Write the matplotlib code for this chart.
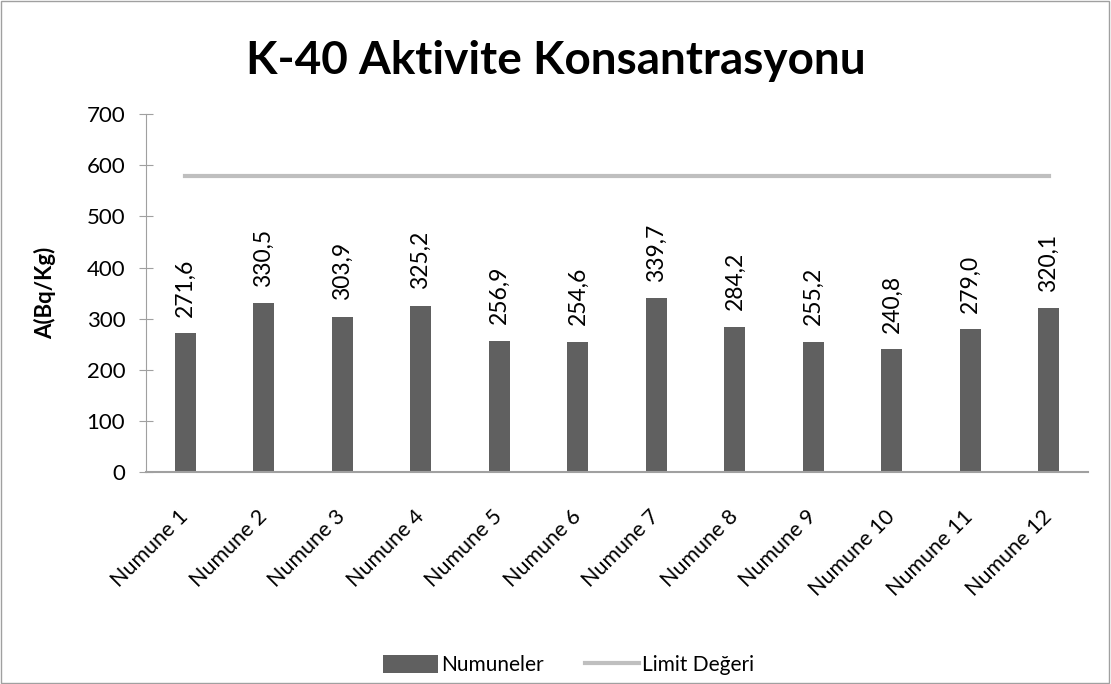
import matplotlib.pyplot as plt
from matplotlib.patches import Rectangle

plt.rcParams['font.family'] = ['Lato', 'DejaVu Sans']

samples = ['Numune 1', 'Numune 2', 'Numune 3', 'Numune 4', 'Numune 5', 'Numune 6',
           'Numune 7', 'Numune 8', 'Numune 9', 'Numune 10', 'Numune 11', 'Numune 12']
k40 = [271.6, 330.5, 303.9, 325.2, 256.9, 254.6, 339.7, 284.2, 255.2, 240.8, 279.0, 320.1]
limit = [580] * len(samples)
yticks = [0, 100, 200, 300, 400, 500, 600, 700]

fig = plt.figure(figsize=(11.11, 6.84), dpi=100)
ax = fig.add_axes([0.1314, 0.310, 0.8479, 0.523])

x = list(range(len(samples)))
bars = ax.bar(x, k40, width=0.27, color='#606060', label='Numuneler', zorder=2)
line, = ax.plot(x, limit, color='#BFBFBF', lw=3, label='Limit Değeri', zorder=3)

for xi, v in zip(x, k40):
    ax.text(xi, v + 32, f'{v:.1f}'.replace('.', ','), rotation=90,
            ha='center', va='bottom', fontsize=16.5)

ax.set_xlim(-0.5, len(samples) - 0.5)
ax.set_ylim(0, 700)
ax.set_yticks(yticks)
ax.set_xticks(x)
ax.set_xticklabels(samples, rotation=45, ha='right', va='center',
                   rotation_mode='anchor', fontsize=15.5)
ax.tick_params(axis='x', length=0, pad=30)
ax.tick_params(axis='y', direction='inout', length=10, color='#A0A0A0', labelsize=16, pad=10)
for s in ['top', 'right']:
    ax.spines[s].set_visible(False)
ax.spines['left'].set_color('#A0A0A0')
ax.spines['bottom'].set_color('#A0A0A0')
ax.spines['bottom'].set_linewidth(1.5)

ax.set_ylabel('A(Bq/Kg)', fontsize=16, fontweight='bold', labelpad=22)

fig.suptitle('K-40 Aktivite Konsantrasyonu', fontsize=33, fontweight='bold', y=0.942)

fig.legend([bars, line], ['Numuneler', 'Limit Değeri'], loc='center',
           bbox_to_anchor=(0.512, 0.028), ncol=2, frameon=False,
           fontsize=15, handlelength=2.6, handleheight=1.0, columnspacing=2.0,
           handletextpad=0.15)

fig.patches.append(Rectangle((0.001, 0.001), 0.997, 0.997, transform=fig.transFigure,
                             fill=False, edgecolor='#A0A0A0', lw=1))

fig.savefig('out.png', dpi=100)
